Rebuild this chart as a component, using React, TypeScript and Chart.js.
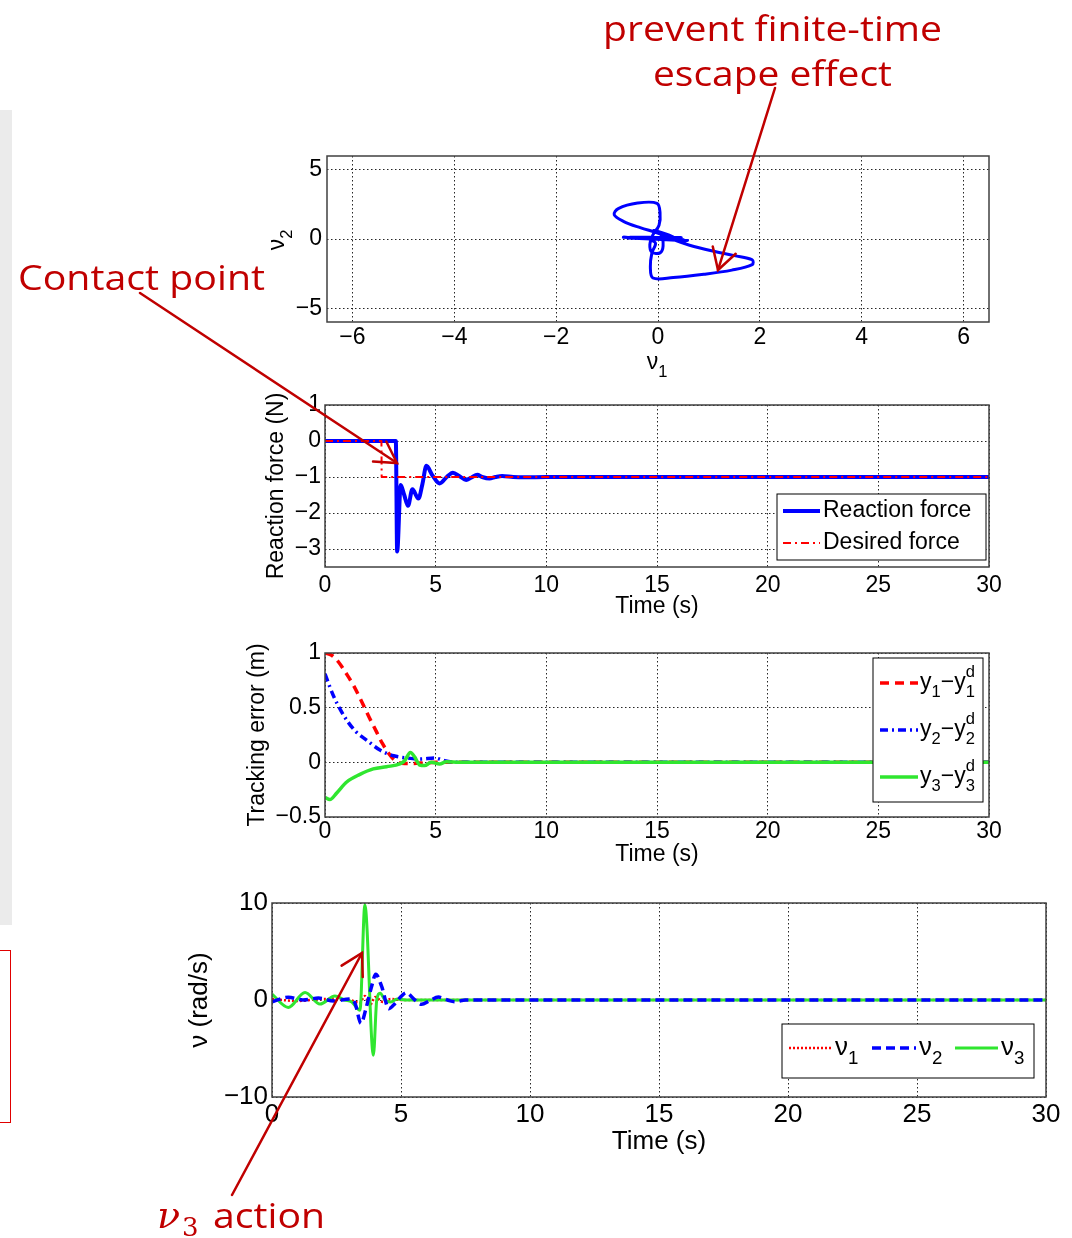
import React, { useEffect, useRef } from 'react';
import { Chart, registerables } from 'chart.js';

Chart.register(...registerables);

// ---------------- DATA ----------------
// Phase portrait nu1 vs nu2
const phaseNu1 = [0, 0.45, -0.55, 0.5, -0.68, 0.55, -0.6, 0.58, -0.45, 0.4, -0.2, -0.05, -0.12, -0.15, -0.1, 0.3, 0.9, 1.45, 1.85, 1.85, 1.5, 1.05, 0.62, 0.3, 0.02, -0.35, -0.68, -0.86, -0.78, -0.4, -0.02, 0.04, 0.02, -0.1, -0.16, -0.12, 0.04, 0.1, 0.06, -0.08, 0.3, -0.55, 0.5, -0.6, 0.55, -0.4, 0.35, -0.25, 0.2, 0];
const phaseNu2 = [0, 0.1, 0.12, -0.05, 0.12, -0.12, 0.08, -0.1, 0.12, -0.08, 0.05, -0.3, -1.0, -2.0, -2.82, -2.78, -2.55, -2.25, -1.85, -1.5, -1.2, -0.85, -0.45, -0.05, 0.4, 0.82, 1.28, 1.75, 2.2, 2.6, 2.58, 1.9, 1.0, 0.3, -0.4, -0.95, -1.0, -0.5, 0.3, 0.62, 0.1, 0.12, -0.08, 0.1, -0.1, 0.06, -0.06, 0.04, -0.02, 0];
const phaseXTicks = [-6, -4, -2, 0, 2, 4, 6];
const phaseYTicks = [-5, 0, 5];

// Reaction force
const forceT = [0, 3.2, 3.26, 3.42, 3.58, 3.75, 3.95, 4.22, 4.4, 4.58, 4.85, 5.18, 5.5, 5.78, 6.08, 6.38, 6.6, 6.88, 7.1, 7.43, 7.7, 8.0, 8.5, 9.0, 10, 15, 20, 25, 30];
const forceVal = [0, 0, -3.07, -1.22, -1.5, -1.8, -1.34, -1.6, -1.2, -0.69, -0.95, -1.18, -1.0, -0.88, -0.98, -1.08, -1.02, -0.94, -1.0, -1.04, -1.0, -0.97, -1.0, -1.01, -1.0, -1.0, -1.0, -1.0, -1.0];
const desiredT = [0, 2.55, 2.56, 30];
const desiredVal = [0, 0, -1, -1];
const timeTicks = [0, 5, 10, 15, 20, 25, 30];
const forceYTicks = [-3, -2, -1, 0, 1];

// Tracking error
const e1T = [0, 0.3, 0.6, 1.0, 1.3, 1.6, 2.0, 2.3, 2.6, 3.0, 3.3, 3.6, 4.0, 4.5, 5.0, 6, 10, 20, 30];
const e1Val = [1.0, 0.98, 0.92, 0.8, 0.7, 0.58, 0.41, 0.29, 0.17, 0.05, 0.0, -0.01, -0.01, -0.005, 0, 0, 0, 0, 0];
const e2T = [0, 0.2, 0.4, 0.7, 1.0, 1.4, 1.9, 2.5, 3.1, 3.7, 4.3, 4.95, 5.4, 6, 8, 30];
const e2Val = [0.81, 0.7, 0.6, 0.48, 0.38, 0.28, 0.2, 0.11, 0.06, 0.04, 0.03, 0.04, 0.015, 0, 0, 0];
const e3T = [0, 0.22, 0.53, 0.98, 1.58, 2.18, 2.78, 3.38, 3.6, 3.86, 4.05, 4.28, 4.5, 4.8, 5.18, 5.48, 6.08, 7, 10, 30];
const e3Val = [-0.32, -0.34, -0.28, -0.18, -0.11, -0.06, -0.04, -0.015, 0.015, 0.09, 0.05, -0.025, -0.03, 0.0, -0.015, 0.006, 0, 0, 0, 0];
const errYTicks = [-0.5, 0, 0.5, 1];

// Angular velocities
const nu1T = [0, 1, 2, 3, 3.4, 3.6, 3.8, 4.0, 4.3, 4.6, 5, 6, 30];
const nu1Val = [0.1, -0.1, 0.1, 0, -0.3, 0.4, -0.5, 0.3, -0.2, 0.1, 0, 0, 0];
const nu2T = [0, 0.63, 1.2, 1.8, 2.4, 3.0, 3.22, 3.45, 3.65, 3.86, 4.02, 4.25, 4.53, 4.77, 5.0, 5.2, 5.54, 5.8, 6.1, 6.45, 6.8, 7.1, 7.5, 8, 30];
const nu2Val = [-0.18, 0.28, 0.0, 0.2, -0.1, 0.1, -0.35, -2.4, -0.8, 1.4, 2.65, 1.4, -0.9, -0.35, 0.35, 0.75, 0.0, -0.45, -0.1, 0.3, 0.0, -0.18, 0, 0, 0];
const nu3T = [0, 0.63, 1.28, 1.86, 2.44, 2.8, 3.09, 3.41, 3.6, 3.93, 4.06, 4.19, 4.38, 4.6, 4.85, 5.2, 6, 30];
const nu3Val = [0.6, -0.77, 0.77, -0.42, 0.42, 0.0, -0.2, -1.05, 9.8, -5.7, 0.0, 0.7, 0.0, -0.2, 0.1, 0, 0, 0];
const nuYTicks = [-10, 0, 10];

// ---------------- STYLE / LAYOUT ----------------
const FONT = '"Liberation Sans", Arial, Helvetica, sans-serif';
const RED = '#ff0000';
const BLUE = '#0000ff';
const GREEN = '#2fe62f';
const ANNO = '#c00000';

type Part = { text: string; sub?: string; sup?: string };

const zip = (xs: number[], ys: number[]) => xs.map((x, i) => ({ x, y: ys[i] }));
const fmt = (v: number) => String(v).replace('-', '\u2212');

function drawRich(ctx: CanvasRenderingContext2D, parts: Part[], x: number, y: number, size: number, align: 'left' | 'center' = 'left') {
  ctx.save();
  const small = size * 0.72;
  const widths = parts.map((p) => {
    ctx.font = `${size}px ${FONT}`;
    const w = ctx.measureText(p.text).width;
    ctx.font = `${small}px ${FONT}`;
    const ws = Math.max(p.sub ? ctx.measureText(p.sub).width : 0, p.sup ? ctx.measureText(p.sup).width : 0);
    return [w, ws];
  });
  const total = widths.reduce((a, [w, ws]) => a + w + ws, 0);
  let cx = align === 'center' ? x - total / 2 : x;
  ctx.fillStyle = '#000';
  ctx.textBaseline = 'middle';
  ctx.textAlign = 'left';
  parts.forEach((p, i) => {
    ctx.font = `${size}px ${FONT}`;
    ctx.fillText(p.text, cx, y);
    cx += widths[i][0];
    ctx.font = `${small}px ${FONT}`;
    if (p.sub) ctx.fillText(p.sub, cx, y + size * 0.4);
    if (p.sup) ctx.fillText(p.sup, cx, y - size * 0.45);
    cx += widths[i][1];
  });
  ctx.restore();
}

const decorPlugin = {
  id: 'decor',
  afterDraw(chart: any, _args: any, opts: any) {
    const ctx: CanvasRenderingContext2D = chart.ctx;
    const a = chart.chartArea;
    ctx.save();
    ctx.strokeStyle = '#404040';
    ctx.lineWidth = 1.5;
    ctx.setLineDash([]);
    ctx.strokeRect(a.left, a.top, a.right - a.left, a.bottom - a.top);
    ctx.restore();
    (opts.titles || []).forEach((t: any) => {
      ctx.save();
      ctx.translate(t.x, t.y);
      if (t.rotate) ctx.rotate(-Math.PI / 2);
      drawRich(ctx, t.parts, 0, 0, t.size, 'center');
      ctx.restore();
    });
    const lg = opts.legend;
    if (lg) {
      const [x1, y1, x2, y2] = lg.box;
      ctx.save();
      ctx.fillStyle = '#fff';
      ctx.fillRect(x1, y1, x2 - x1, y2 - y1);
      ctx.strokeStyle = '#000';
      ctx.lineWidth = 1;
      ctx.strokeRect(x1, y1, x2 - x1, y2 - y1);
      ctx.restore();
      lg.items.forEach((it: any) => {
        const ds = chart.data.datasets[it.ds];
        ctx.save();
        ctx.strokeStyle = ds.borderColor;
        ctx.lineWidth = ds.borderWidth;
        ctx.setLineDash(ds.borderDash || []);
        ctx.beginPath();
        ctx.moveTo(it.x1, it.y);
        ctx.lineTo(it.x2, it.y);
        ctx.stroke();
        ctx.restore();
        drawRich(ctx, it.parts, it.tx, it.y, lg.size);
      });
    }
  },
};

function scaleCfg(o: { min: number; max: number; ticks: number[]; size: number; pad: number; fixed: number; horizontal: boolean; title?: string }) {
  return {
    type: 'linear',
    min: o.min,
    max: o.max,
    afterBuildTicks: (s: any) => {
      s.ticks = o.ticks.map((v) => ({ value: v }));
    },
    afterFit: (s: any) => {
      if (o.horizontal) s.height = o.fixed;
      else s.width = o.fixed;
      s.paddingLeft = 0;
      s.paddingRight = 0;
      s.paddingTop = 0;
      s.paddingBottom = 0;
    },
    grid: { color: 'rgba(0,0,0,0.85)', lineWidth: 1, drawTicks: false, borderDash: [1.5, 2.5] },
    border: { display: false, dash: [1.5, 2.5] },
    ticks: {
      font: { family: FONT, size: o.size, lineHeight: 1 },
      color: '#000',
      padding: o.pad,
      autoSkip: false,
      maxRotation: 0,
      callback: (v: any) => fmt(Number(v)),
    },
    title: o.title
      ? { display: true, text: o.title, color: '#000', padding: 0, font: { family: FONT, size: o.size, lineHeight: 1 } }
      : { display: false },
  };
}

function baseOptions(pad: { left: number; right: number; top: number; bottom: number }, scales: any, decor: any) {
  return {
    animation: false,
    responsive: false,
    maintainAspectRatio: false,
    layout: { padding: pad },
    elements: { point: { radius: 0 }, line: { tension: 0, cubicInterpolationMode: 'monotone', borderJoinStyle: 'round' } },
    plugins: { legend: { display: false }, tooltip: { enabled: false }, decor },
    scales,
  };
}

// Chart 1 : phase portrait (canvas top 140)
function buildPhase() {
  const top = 140;
  return {
    type: 'scatter',
    data: {
      datasets: [
        {
          label: 'nu',
          data: zip(phaseNu1, phaseNu2),
          showLine: true,
          borderColor: BLUE,
          borderWidth: 3,
          pointRadius: 0,
          tension: 0.35,
          cubicInterpolationMode: 'default',
        },
      ],
    },
    options: baseOptions(
      { left: 240, right: 83, top: 16, bottom: 0 },
      {
        x: scaleCfg({ min: -6.5, max: 6.5, ticks: phaseXTicks, size: 23, pad: 4.5, fixed: 68, horizontal: true }),
        y: scaleCfg({ min: -6, max: 6, ticks: phaseYTicks, size: 23, pad: 5, fixed: 87, horizontal: false }),
      },
      {
        titles: [
          { parts: [{ text: '\u03bd', sub: '2' }], x: 278, y: 240 - top, rotate: true, size: 23 },
          { parts: [{ text: '\u03bd', sub: '1' }], x: 657, y: 363 - top, rotate: false, size: 23 },
        ],
      }
    ),
    plugins: [decorPlugin],
  };
}

// Chart 2 : reaction force (canvas top 390)
function buildForce() {
  const top = 390;
  return {
    type: 'line',
    data: {
      datasets: [
        { label: 'Reaction force', data: zip(forceT, forceVal), borderColor: BLUE, borderWidth: 4, order: 1 },
        { label: 'Desired force', data: zip(desiredT, desiredVal), borderColor: RED, borderWidth: 2, borderDash: [8, 4, 2, 4], order: 0, cubicInterpolationMode: 'default' },
      ],
    },
    options: baseOptions(
      { left: 265, right: 83, top: 15, bottom: 7 },
      {
        x: scaleCfg({ min: 0, max: 30, ticks: timeTicks, size: 23, pad: 7, fixed: 51, horizontal: true, title: 'Time (s)' }),
        y: scaleCfg({ min: -3.5, max: 1, ticks: forceYTicks, size: 23, pad: 4, fixed: 60, horizontal: false, title: 'Reaction force (N)' }),
      },
      {
        legend: {
          size: 23,
          box: [777, 494 - top, 986, 560 - top],
          items: [
            { ds: 0, x1: 783, x2: 820, y: 511 - top, tx: 823, parts: [{ text: 'Reaction force' }] },
            { ds: 1, x1: 783, x2: 820, y: 543 - top, tx: 823, parts: [{ text: 'Desired force' }] },
          ],
        },
      }
    ),
    plugins: [decorPlugin],
  };
}

// Chart 3 : tracking error (canvas top 625)
function buildError() {
  const top = 625;
  return {
    type: 'line',
    data: {
      datasets: [
        { label: 'y1-y1d', data: zip(e1T, e1Val), borderColor: RED, borderWidth: 3.5, borderDash: [9, 6], order: 2 },
        { label: 'y2-y2d', data: zip(e2T, e2Val), borderColor: BLUE, borderWidth: 3.5, borderDash: [8, 4, 2, 4], order: 1 },
        { label: 'y3-y3d', data: zip(e3T, e3Val), borderColor: GREEN, borderWidth: 3.5, order: 0 },
      ],
    },
    options: baseOptions(
      { left: 246, right: 83, top: 28, bottom: 3.5 },
      {
        x: scaleCfg({ min: 0, max: 30, ticks: timeTicks, size: 23, pad: 3.5, fixed: 49.5, horizontal: true, title: 'Time (s)' }),
        y: scaleCfg({ min: -0.5, max: 1, ticks: errYTicks, size: 23, pad: 4, fixed: 79, horizontal: false, title: 'Tracking error (m)' }),
      },
      {
        legend: {
          size: 23,
          box: [873, 658 - top, 983, 802 - top],
          items: [
            { ds: 0, x1: 880, x2: 918, y: 683 - top, tx: 920, parts: [{ text: 'y', sub: '1' }, { text: '\u2212y', sup: 'd', sub: '1' }] },
            { ds: 1, x1: 880, x2: 918, y: 730 - top, tx: 920, parts: [{ text: 'y', sub: '2' }, { text: '\u2212y', sup: 'd', sub: '2' }] },
            { ds: 2, x1: 880, x2: 918, y: 777 - top, tx: 920, parts: [{ text: 'y', sub: '3' }, { text: '\u2212y', sup: 'd', sub: '3' }] },
          ],
        },
      }
    ),
    plugins: [decorPlugin],
  };
}

// Chart 4 : nu (canvas top 870)
function buildNu() {
  const top = 870;
  return {
    type: 'line',
    data: {
      datasets: [
        { label: 'nu1', data: zip(nu1T, nu1Val), borderColor: RED, borderWidth: 2.5, borderDash: [2, 2], order: 2 },
        { label: 'nu2', data: zip(nu2T, nu2Val), borderColor: BLUE, borderWidth: 3.5, borderDash: [9, 5], order: 0 },
        { label: 'nu3', data: zip(nu3T, nu3Val), borderColor: GREEN, borderWidth: 3, order: 1 },
      ],
    },
    options: baseOptions(
      { left: 187, right: 26, top: 33, bottom: 15 },
      {
        x: scaleCfg({ min: 0, max: 30, ticks: timeTicks, size: 26, pad: 5, fixed: 58, horizontal: true, title: 'Time (s)' }),
        y: scaleCfg({ min: -10, max: 10, ticks: nuYTicks, size: 26, pad: 4, fixed: 85, horizontal: false, title: '\u03bd (rad/s)' }),
      },
      {
        legend: {
          size: 26,
          box: [782, 1024 - top, 1034, 1078 - top],
          items: [
            { ds: 0, x1: 789, x2: 832, y: 1048 - top, tx: 835, parts: [{ text: '\u03bd', sub: '1' }] },
            { ds: 1, x1: 872, x2: 916, y: 1048 - top, tx: 919, parts: [{ text: '\u03bd', sub: '2' }] },
            { ds: 2, x1: 955, x2: 998, y: 1048 - top, tx: 1001, parts: [{ text: '\u03bd', sub: '3' }] },
          ],
        },
      }
    ),
    plugins: [decorPlugin],
  };
}

function ChartCanvas({ top, height, build }: { top: number; height: number; build: () => any }) {
  const ref = useRef<HTMLCanvasElement>(null);
  useEffect(() => {
    const chart = new Chart(ref.current as HTMLCanvasElement, build());
    return () => chart.destroy();
  }, []);
  return (
    <canvas
      ref={ref}
      width={1072}
      height={height}
      style={{ position: 'absolute', left: 0, top, width: 1072, height, display: 'block' }}
    />
  );
}

function Arrow({ x1, y1, x2, y2 }: { x1: number; y1: number; x2: number; y2: number }) {
  const ang = Math.atan2(y1 - y2, x1 - x2);
  const L = 24;
  const a = Math.PI / 6;
  const b1 = `${x2 + L * Math.cos(ang + a)},${y2 + L * Math.sin(ang + a)}`;
  const b2 = `${x2 + L * Math.cos(ang - a)},${y2 + L * Math.sin(ang - a)}`;
  return (
    <g stroke={ANNO} strokeWidth={2.5} fill="none" strokeLinecap="round" strokeLinejoin="miter">
      <line x1={x1} y1={y1} x2={x2} y2={y2} />
      <polyline points={`${b1} ${x2},${y2} ${b2}`} />
    </g>
  );
}

export default function App() {
  useEffect(() => {
    document.body.style.margin = '0';
  }, []);
  const annoFont = '"Open Sans", Lato, "DejaVu Sans", sans-serif';
  return (
    <div style={{ position: 'relative', width: 1072, height: 1238, background: '#fff', overflow: 'hidden' }}>
      <div style={{ position: 'absolute', left: 0, top: 110, width: 12, height: 815, background: '#ebebeb' }} />
      <div style={{ position: 'absolute', left: -2, top: 950, width: 13, height: 173, border: '1.5px solid #e00000', boxSizing: 'border-box' }} />
      <ChartCanvas top={140} height={250} build={buildPhase} />
      <ChartCanvas top={390} height={235} build={buildForce} />
      <ChartCanvas top={625} height={245} build={buildError} />
      <ChartCanvas top={870} height={300} build={buildNu} />
      <svg width={1072} height={1238} style={{ position: 'absolute', left: 0, top: 0, pointerEvents: 'none' }}>
        <text x={603} y={41} fontSize={35} fontFamily={annoFont} fill={ANNO} textLength={339} lengthAdjust="spacingAndGlyphs">prevent finite-time</text>
        <text x={653} y={86} fontSize={35} fontFamily={annoFont} fill={ANNO} textLength={239} lengthAdjust="spacingAndGlyphs">escape effect</text>
        <text x={18} y={290} fontSize={35} fontFamily={annoFont} fill={ANNO} textLength={247} lengthAdjust="spacingAndGlyphs">Contact point</text>
        <text x={157} y={1228} fontSize={38} fontFamily='"DejaVu Serif", serif' fontStyle="italic" fill={ANNO}>{'\u03bd'}</text>
        <text x={182} y={1236} fontSize={26} fontFamily='"DejaVu Serif", serif' fill={ANNO}>3</text>
        <text x={213} y={1228} fontSize={35} fontFamily={annoFont} fill={ANNO} textLength={112} lengthAdjust="spacingAndGlyphs">action</text>
        <Arrow x1={775} y1={88} x2={718} y2={270} />
        <Arrow x1={140} y1={293} x2={397} y2={463} />
        <Arrow x1={232} y1={1195} x2={362} y2={953} />
      </svg>
    </div>
  );
}
